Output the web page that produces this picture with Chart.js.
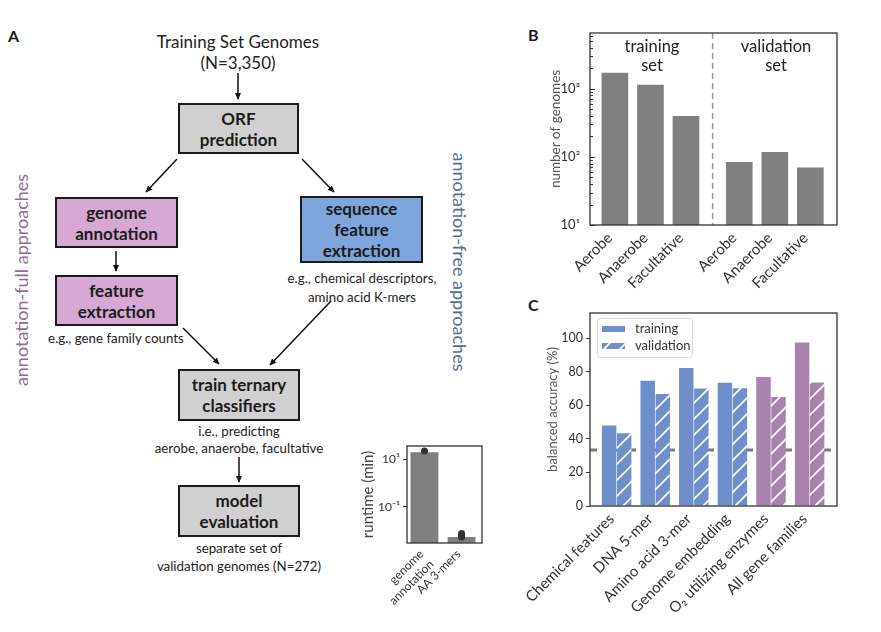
<!DOCTYPE html>
<html><head><meta charset="utf-8">
<script src="https://cdn.jsdelivr.net/npm/chart.js@4.4.1/dist/chart.umd.min.js"></script>
<style>
html,body{margin:0;padding:0;background:#fff}
body{width:881px;height:632px;position:relative;overflow:hidden;font-family:Lato,"Open Sans",sans-serif;color:#1a1a1a}
.abs{position:absolute}
.lbl{position:absolute;font-weight:bold;font-size:16px}
.box{position:absolute;box-sizing:border-box;border:2px solid #1b1b1b;display:flex;align-items:center;justify-content:center;text-align:center;font-weight:bold;font-size:17px;line-height:21px;color:#1b1b1b}
.gray{background:#d0d0d0}.pink{background:#d6a8d3}.blue{background:#7ea5dc}
.note{position:absolute;text-align:center;font-size:13.3px;line-height:17px;color:#222;white-space:nowrap;transform:translateX(-50%)}
.vt{position:absolute;white-space:nowrap;font-size:18px;transform:translate(-50%,-50%) rotate(-90deg)}
.vt2{position:absolute;white-space:nowrap;font-size:18px;transform:translate(-50%,-50%) rotate(90deg)}
canvas{position:absolute}
.btxt{position:absolute;text-align:center;font-size:16.5px;line-height:19px;color:#222;transform:translateX(-50%);white-space:nowrap}
</style></head>
<body>
<!-- Panel A flowchart -->
<div class="lbl" style="left:8px;top:26px">A</div>
<div class="note" style="left:238px;top:31px;font-size:17px;line-height:21px">Training Set Genomes<br>(N=3,350)</div>
<div class="box gray" style="left:178px;top:103px;width:121px;height:51px">ORF<br>prediction</div>
<div class="box pink" style="left:55px;top:197px;width:123px;height:51px">genome<br>annotation</div>
<div class="box pink" style="left:55px;top:275px;width:123px;height:51px">feature<br>extraction</div>
<div class="box blue" style="left:300px;top:196px;width:123px;height:67px;line-height:21px">sequence<br>feature<br>extraction</div>
<div class="box gray" style="left:178px;top:369px;width:122px;height:52px">train ternary<br>classifiers</div>
<div class="box gray" style="left:178px;top:485px;width:122px;height:52px">model<br>evaluation</div>
<div class="note" style="left:116px;top:330px">e.g., gene family counts</div>
<div class="note" style="left:362px;top:269px;line-height:19px">e.g., chemical descriptors,<br>amino acid K-mers</div>
<div class="note" style="left:239px;top:423px;line-height:17px">i.e., predicting<br>aerobe, anaerobe, facultative</div>
<div class="note" style="left:239px;top:539px;line-height:18px">separate set of<br>validation genomes (N=272)</div>
<div class="vt" style="left:21px;top:280px;color:#8f6e90">annotation-full approaches</div>
<div class="vt2" style="left:460px;top:262px;color:#566d8e">annotation-free approaches</div>
<svg class="abs" style="left:0;top:0" width="520" height="632">
<defs><marker id="ah" viewBox="0 0 10 10" refX="9" refY="5" markerWidth="7" markerHeight="7" markerUnits="userSpaceOnUse" orient="auto"><path d="M0,0.5 L10,5 L0,9.5 z" fill="#111"/></marker></defs>
<g stroke="#111" stroke-width="1.5" marker-end="url(#ah)">
<line x1="238" y1="73" x2="238" y2="99"/>
<line x1="177" y1="159" x2="146" y2="192"/>
<line x1="302" y1="159" x2="334" y2="192"/>
<line x1="116" y1="251" x2="116" y2="271"/>
<line x1="183" y1="328" x2="219" y2="364"/>
<line x1="331" y1="301" x2="270" y2="365"/>
<line x1="239" y1="457" x2="239" y2="482"/>
</g></svg>

<!-- Panel B -->
<div class="lbl" style="left:528px;top:25px">B</div>
<canvas id="cb" width="310" height="280" style="left:540px;top:25px"></canvas>
<div class="btxt" id="bt0" style="left:652px;top:37px"></div>
<div class="btxt" id="bt1" style="left:776px;top:37px"></div>

<!-- Panel C -->
<div class="lbl" style="left:528px;top:295px">C</div>
<canvas id="cc" width="330" height="327" style="left:520px;top:305px"></canvas>

<!-- Inset runtime -->
<canvas id="cr" width="140" height="192" style="left:355px;top:440px"></canvas>

<script>
// ---------------- data ----------------
const bCategories = ['Aerobe', 'Anaerobe', 'Facultative', 'Aerobe', 'Anaerobe', 'Facultative'];
const bGroupNames = ['training set', 'validation set'];
const bTrainingCounts = [1720, 1150, 400];
const bValidationCounts = [84, 118, 70];
const bYTickValues = [10, 100, 1000];
const bYTickLabels = ['10¹', '10²', '10³'];

const cCategories = ['Chemical features', 'DNA 5-mer', 'Amino acid 3-mer', 'Genome embedding', 'O₂ utilizing enzymes', 'All gene families'];
const cSeriesNames = ['training', 'validation'];
const cTraining = [48, 74.6, 82.3, 73.4, 76.8, 97.4];
const cValidation = [43.3, 66.7, 70.0, 70.2, 65.0, 73.6];
const cApproach = ['free', 'free', 'free', 'free', 'full', 'full'];
const cChanceLevel = 33.3;
const cYTicks = [0, 20, 40, 60, 80, 100];

const rCategories = [['genome', 'annotation'], 'AA 3-mers'];
const rMeanRuntime = [19, 0.0055];
const rGenomeAnnotationRuns = [21.5];
const rAA3merRuns = [0.0055, 0.0062, 0.007, 0.0078];
const rYTickValues = [0.1, 10];
const rYTickLabels = ['10⁻¹', '10¹'];

// ---------------- styles ----------------
Chart.defaults.font.family = 'Lato, "Open Sans", sans-serif';
Chart.defaults.color = '#333';
const BLUE = '#6e8fca', PURPLE = '#a982ae', GRAY = '#808080', AX = '#333';

function hatchPattern(color, ctx) {
  const n = 16, c = document.createElement('canvas');
  c.width = c.height = n;
  const x = c.getContext('2d');
  x.fillStyle = color; x.fillRect(0, 0, n, n);
  x.strokeStyle = '#fff'; x.lineWidth = 1.8;
  x.beginPath();
  x.moveTo(0, n); x.lineTo(n, 0);
  x.moveTo(-n / 2, n / 2); x.lineTo(n / 2, -n / 2);
  x.moveTo(n / 2, n * 1.5); x.lineTo(n * 1.5, n / 2);
  x.stroke();
  return ctx.createPattern(c, 'repeat');
}

const framePlugin = {
  id: 'frame',
  afterDraw(chart) {
    const { ctx, chartArea: a } = chart;
    ctx.save();
    ctx.strokeStyle = AX; ctx.lineWidth = 1.3;
    ctx.strokeRect(a.left, a.top, a.right - a.left, a.bottom - a.top);
    ctx.restore();
  }
};
const common = {
  responsive: false, animation: false, devicePixelRatio: 1, events: [],
  plugins: { legend: { display: false }, tooltip: { enabled: false } }
};
function fixY(w) { return s => { s.width = w; s.paddingTop = 0; s.paddingBottom = 0; }; }
function fixX(h) { return s => { s.height = h; s.paddingLeft = 0; s.paddingRight = 0; }; }

// ---------------- Panel B ----------------
const bPos = bCategories.map((_, i) => i + (i >= bTrainingCounts.length ? 0.5 : 0));
const bValues = bTrainingCounts.concat(bValidationCounts);
const bDecor = {
  id: 'bDecor',
  beforeDatasetsDraw(chart) {
    const { ctx, chartArea: a, scales: { x } } = chart;
    const px = x.getPixelForValue((bPos[2] + bPos[3]) / 2);
    ctx.save();
    ctx.strokeStyle = '#999'; ctx.lineWidth = 1.5; ctx.setLineDash([6, 4]);
    ctx.beginPath(); ctx.moveTo(px, a.top); ctx.lineTo(px, a.bottom); ctx.stroke();
    ctx.restore();
  },
  afterDraw(chart) {
    const { ctx, chartArea: a, scales: { y } } = chart;
    ctx.save(); ctx.strokeStyle = AX; ctx.lineWidth = 1;
    for (let d = 10; d <= 10000; d *= 10) {
      for (let k = 1; k <= 9; k++) {
        const v = d * k;
        if (v < y.min || v > y.max) continue;
        const py = Math.round(y.getPixelForValue(v)) + 0.5;
        const len = k === 1 ? 5 : 3;
        ctx.beginPath(); ctx.moveTo(a.left, py); ctx.lineTo(a.left + len, py); ctx.stroke();
      }
    }
    ctx.restore();
  }
};
new Chart(document.getElementById('cb'), {
  type: 'bar',
  data: { datasets: [{
    data: bPos.map((x, i) => ({ x, y: bValues[i] })),
    backgroundColor: GRAY, borderWidth: 0, barPercentage: 0.75, categoryPercentage: 1
  }] },
  options: Object.assign({}, common, {
    layout: { padding: { top: 8, right: 13, left: 0, bottom: 0 } },
    scales: {
      x: {
        type: 'linear', offset: false, min: -0.7, max: 6.25,
        grid: { display: false, drawTicks: false, offset: false }, border: { display: false },
        afterBuildTicks: s => { s.ticks = bPos.map(v => ({ value: v })); },
        afterFit: fixX(80),
        ticks: { autoSkip: false, minRotation: 45, maxRotation: 45, padding: 4, labelOffset: -5, font: { size: 15 },
          callback: (v, i) => bCategories[i] }
      },
      y: {
        type: 'logarithmic', min: 10, max: 6600,
        grid: { display: false, drawTicks: false }, border: { display: false },
        afterBuildTicks: s => { s.ticks = bYTickValues.map(v => ({ value: v })); },
        afterFit: fixY(50),
        ticks: { padding: 10, font: { size: 13 }, callback: (v, i) => bYTickLabels[i] },
        title: { display: true, text: 'number of genomes', color: '#555', font: { size: 13.5 }, padding: { top: 8, bottom: 0 } }
      }
    }
  }),
  plugins: [bDecor, framePlugin]
});
document.getElementById('bt0').innerHTML = bGroupNames[0].replace(' ', '<br>');
document.getElementById('bt1').innerHTML = bGroupNames[1].replace(' ', '<br>');

// ---------------- Panel C ----------------
const cCanvas = document.getElementById('cc');
const cctx = cCanvas.getContext('2d');
const cPos = cCategories.map((_, i) => i);
const cSolid = cApproach.map(a => a === 'free' ? BLUE : PURPLE);
const cHatched = cApproach.map(a => hatchPattern(a === 'free' ? BLUE : PURPLE, cctx));
const cDecor = {
  id: 'cDecor',
  beforeDatasetsDraw(chart) {
    const { ctx, chartArea: a, scales: { y } } = chart;
    const py = y.getPixelForValue(cChanceLevel);
    ctx.save();
    ctx.strokeStyle = '#7a7a7a'; ctx.lineWidth = 3; ctx.setLineDash([7, 6]);
    ctx.beginPath(); ctx.moveTo(a.left, py); ctx.lineTo(a.right, py); ctx.stroke();
    ctx.restore();
  },
  afterDraw(chart) {
    const { ctx, chartArea: a } = chart;
    const lx = a.left + 7, ly = a.top + 5, lw = 95, lh = 39;
    ctx.save();
    ctx.fillStyle = 'rgba(255,255,255,0.85)';
    ctx.strokeStyle = '#d6d6d6'; ctx.lineWidth = 1;
    ctx.beginPath(); ctx.roundRect(lx + 0.5, ly + 0.5, lw, lh, 3); ctx.fill(); ctx.stroke();
    ctx.fillStyle = BLUE; ctx.fillRect(lx + 5, ly + 8, 23, 6);
    ctx.fillStyle = hatchPattern(BLUE, ctx); ctx.fillRect(lx + 5, ly + 25, 23, 6);
    ctx.fillStyle = '#333'; ctx.font = '13px Lato, "Open Sans", sans-serif'; ctx.textBaseline = 'middle';
    ctx.fillText(cSeriesNames[0], lx + 38, ly + 11);
    ctx.fillText(cSeriesNames[1], lx + 38, ly + 28);
    ctx.restore();
  }
};
new Chart(cCanvas, {
  type: 'bar',
  data: { datasets: [
    { label: cSeriesNames[0], data: cPos.map((x, i) => ({ x, y: cTraining[i] })), backgroundColor: cSolid,
      borderWidth: 0, barPercentage: 0.96, categoryPercentage: 0.78 },
    { label: cSeriesNames[1], data: cPos.map((x, i) => ({ x, y: cValidation[i] })), backgroundColor: cHatched,
      borderWidth: 0, barPercentage: 0.96, categoryPercentage: 0.78 }
  ] },
  options: Object.assign({}, common, {
    layout: { padding: { top: 8, right: 13, left: 0, bottom: 0 } },
    scales: {
      x: {
        type: 'linear', offset: false, min: -0.69, max: 5.71,
        grid: { display: false, drawTicks: false, offset: false }, border: { display: false },
        afterBuildTicks: s => { s.ticks = cPos.map(v => ({ value: v })); },
        afterFit: fixX(126),
        ticks: { autoSkip: false, minRotation: 45, maxRotation: 45, padding: 4, labelOffset: -5, font: { size: 15 },
          callback: (v, i) => cCategories[i] }
      },
      y: {
        type: 'linear', min: 0, max: 115,
        grid: { drawOnChartArea: false, drawTicks: true, tickLength: 4, color: AX, tickWidth: 1 }, border: { display: false },
        afterBuildTicks: s => { s.ticks = cYTicks.map(v => ({ value: v })); },
        afterFit: fixY(70),
        ticks: { padding: 3, font: { size: 12.5 } },
        title: { display: true, text: 'balanced accuracy (%)', color: '#555', font: { size: 13 }, padding: { top: 25, bottom: 0 } }
      }
    }
  }),
  plugins: [cDecor, framePlugin]
});

// ---------------- Inset runtime ----------------
const rPos = rCategories.map((_, i) => i);
new Chart(document.getElementById('cr'), {
  type: 'bar',
  data: { datasets: [
    { type: 'line', showLine: false, pointRadius: 3.5, pointBackgroundColor: '#333', pointBorderWidth: 0,
      data: rGenomeAnnotationRuns.map(y => ({ x: rPos[0], y })).concat(rAA3merRuns.map(y => ({ x: rPos[1], y }))) },
    { type: 'bar', data: rPos.map((x, i) => ({ x, y: rMeanRuntime[i] })), backgroundColor: '#7f7f7f',
      borderWidth: 0, barPercentage: 0.75, categoryPercentage: 1 }
  ] },
  options: Object.assign({}, common, {
    layout: { padding: { top: 6, right: 13, left: 0, bottom: 0 } },
    scales: {
      x: {
        type: 'linear', offset: false, min: -0.47, max: 1.55,
        grid: { display: false, drawTicks: false, offset: false }, border: { display: false },
        afterBuildTicks: s => { s.ticks = rPos.map(v => ({ value: v })); },
        afterFit: fixX(89),
        ticks: { autoSkip: false, minRotation: 45, maxRotation: 45, padding: 4, labelOffset: -3, font: { size: 12 },
          callback: (v, i) => rCategories[i] }
      },
      y: {
        type: 'logarithmic', min: 0.0031, max: 35,
        grid: { drawOnChartArea: false, drawTicks: true, tickLength: 4, color: AX },
        border: { display: false },
        afterBuildTicks: s => { s.ticks = rYTickValues.map(v => ({ value: v })); },
        afterFit: fixY(52),
        ticks: { padding: 3, font: { size: 12 }, callback: (v, i) => rYTickLabels[i] },
        title: { display: true, text: 'runtime (min)', color: '#444', font: { size: 15 }, padding: { top: 4, bottom: 0 } }
      }
    }
  }),
  plugins: [framePlugin]
});
</script>
</body></html>
